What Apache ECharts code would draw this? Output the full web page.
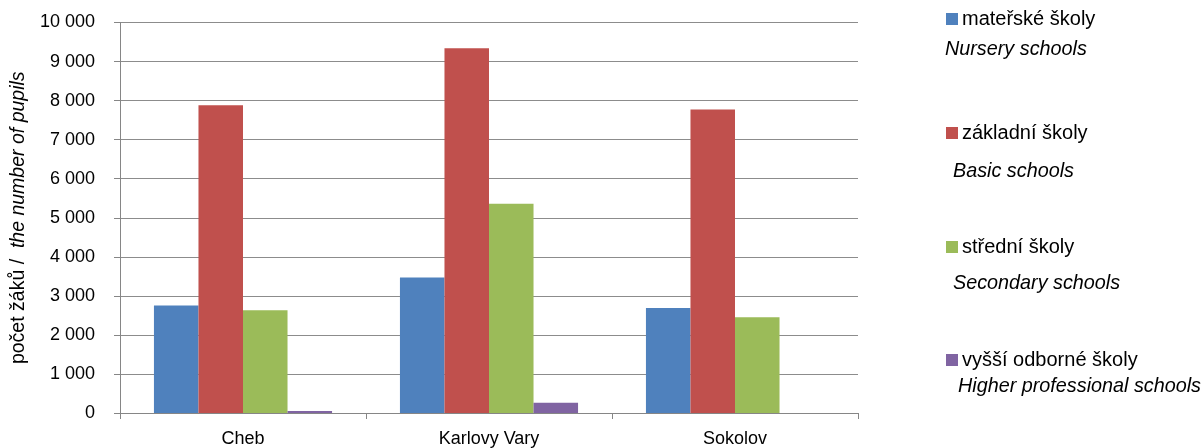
<!DOCTYPE html>
<html>
<head>
<meta charset="utf-8">
<script src="https://cdn.jsdelivr.net/npm/echarts@6/dist/echarts.min.js"></script>
<style>
html,body{margin:0;padding:0;background:#fff;}
#chart{width:1204px;height:448px;}
</style>
</head>
<body>
<div id="chart"></div>
<script>
const categories = ['Cheb', 'Karlovy Vary', 'Sokolov'];
const seriesNames = ['mateřské školy', 'základní školy', 'střední školy', 'vyšší odborné školy'];
const seriesNamesEn = ['Nursery schools', 'Basic schools', 'Secondary schools', 'Higher professional schools'];
const nursery = [2750, 3470, 2690];
const basic = [7880, 9340, 7770];
const secondary = [2630, 5360, 2450];
const higher = [50, 260, 0];
const colors = ['#4F81BD', '#C0504D', '#9BBB59', '#8064A2'];
const yAxisNameCz = 'počet žáků /  ';
const yAxisNameEn = 'the number of pupils';

const FONT = '"Liberation Sans", Arial, sans-serif';
const seriesData = [nursery, basic, secondary, higher];

const legendTops = [9, 123, 237, 350];
const enPos = [[945, 39], [953, 161], [953, 273], [958, 376]];

const chart = echarts.init(document.getElementById('chart'), null, {renderer: 'canvas'});

const option = {
  animation: false,
  backgroundColor: '#fff',
  color: colors,
  textStyle: {fontFamily: FONT},
  grid: {left: 120, right: 346, top: 22.5, bottom: 34.5, containLabel: false},
  legend: seriesNames.map((n, i) => ({
    data: [n],
    left: 946,
    top: legendTops[i],
    padding: 0,
    orient: 'vertical',
    icon: 'rect',
    itemWidth: 12,
    itemHeight: 12,
    selectedMode: false,
    textStyle: {fontFamily: FONT, fontSize: 20, color: '#000', padding: [0, 0, 0, -1]}
  })),
  graphic: seriesNamesEn.map((t, i) => ({
    type: 'text',
    left: enPos[i][0],
    top: enPos[i][1],
    style: {text: t, font: 'italic 19.8px "Liberation Sans", Arial, sans-serif', fill: '#000'}
  })),
  xAxis: {
    type: 'category',
    data: categories,
    boundaryGap: true,
    axisLine: {show: true, lineStyle: {color: '#868686', width: 1}},
    axisTick: {show: true, length: 6, lineStyle: {color: '#868686'}},
    axisLabel: {fontFamily: FONT, fontSize: 18, color: '#000', margin: 17}
  },
  yAxis: {
    type: 'value',
    min: 0,
    max: 10000,
    interval: 1000,
    name: '{a|' + yAxisNameCz + '}{b|' + yAxisNameEn + '}',
    nameLocation: 'middle',
    nameRotate: 90,
    nameGap: 87,
    nameTextStyle: {
      fontFamily: FONT, fontSize: 19.5, color: '#000',
      rich: {
        a: {fontFamily: FONT, fontSize: 19.5, color: '#000', fontStyle: 'normal'},
        b: {fontFamily: FONT, fontSize: 19.5, color: '#000', fontStyle: 'italic'}
      }
    },
    axisLine: {show: true, lineStyle: {color: '#868686', width: 1}},
    axisTick: {show: true, length: 6, lineStyle: {color: '#868686'}},
    axisLabel: {
      fontFamily: FONT, fontSize: 18, color: '#000', margin: 25,
      formatter: v => String(v).replace(/\B(?=(\d{3})+(?!\d))/g, ' ')
    },
    splitLine: {show: true, lineStyle: {color: '#8c8c8c', width: 1}}
  },
  series: seriesNames.map((n, i) => ({
    name: n,
    type: 'bar',
    data: seriesData[i],
    barGap: '0%',
    barCategoryGap: '27.6%',
    itemStyle: {color: colors[i]}
  }))
};
chart.setOption(option);
</script>
</body>
</html>
